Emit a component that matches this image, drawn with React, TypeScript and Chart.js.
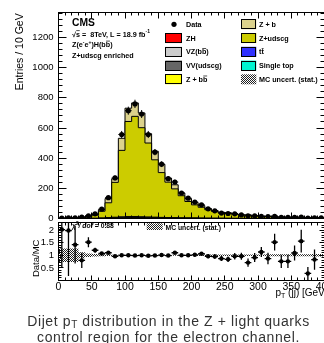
import React, { useEffect, useRef } from 'react';
import { Chart, registerables } from 'chart.js';

Chart.register(...registerables);

const FONT = '"Liberation Sans", Arial, Helvetica, sans-serif';
const BIN_W = 10;

// lower edges of the 10 GeV bins
const binStarts = [0, 10, 20, 30, 40, 50, 60, 70, 80, 90, 100, 110, 120, 130, 140, 150, 160, 170, 180, 190,
  200, 210, 220, 230, 240, 250, 260, 270, 280, 290, 300, 310, 320, 330, 340, 350, 360, 370, 380, 390];

// observed events per bin
const dataCounts = [3, 5, 5, 9, 18, 31, 62, 138, 269, 557, 715, 760, 693, 557, 440, 360, 264, 242, 169, 135,
  109, 91, 64, 51, 36, 33, 31, 24, 18, 17, 15, 13, 14, 8, 7, 8, 10, 2, 5, 5];

// simulated backgrounds (stacked, bottom to top)
const zh = [0, 0, 0, 0, 0, 0, 0, 0.1, 0.1, 0.2, 0.3, 0.3, 0.3, 0.3, 0.3, 0.3, 0.3, 0.2, 0.2, 0.2,
  0.2, 0.2, 0.1, 0.1, 0.1, 0.1, 0.1, 0.1, 0.1, 0.1, 0, 0, 0, 0, 0, 0, 0, 0, 0, 0];
const vzbb = [0, 0, 0, 0, 0, 0, 0.1, 0.2, 0.3, 0.5, 0.6, 0.6, 0.6, 0.5, 0.5, 0.4, 0.3, 0.3, 0.2, 0.2,
  0.2, 0.1, 0.1, 0.1, 0.1, 0.1, 0.1, 0, 0, 0, 0, 0, 0, 0, 0, 0, 0, 0, 0, 0];
const vvudscg = [0, 0, 0, 0.2, 0.2, 0.4, 0.7, 1.2, 1.8, 2.2, 2.4, 2.4, 2.2, 2, 1.8, 1.5, 1.3, 1.1, 0.9, 0.7,
  0.6, 0.5, 0.4, 0.3, 0.3, 0.2, 0.2, 0.2, 0.1, 0.1, 0.1, 0.1, 0.1, 0.1, 0.1, 0, 0, 0, 0, 0];
const ttbar = [0, 0, 0, 0, 0, 0.2, 0.4, 0.7, 1.2, 1.6, 1.8, 1.8, 1.7, 1.5, 1.3, 1.1, 0.9, 0.8, 0.6, 0.5,
  0.4, 0.3, 0.3, 0.2, 0.2, 0.1, 0.1, 0.1, 0.1, 0.1, 0, 0, 0, 0, 0, 0, 0, 0, 0, 0];
const singleTop = [0, 0, 0, 0, 0, 0, 0.1, 0.1, 0.2, 0.3, 0.3, 0.3, 0.3, 0.2, 0.2, 0.2, 0.1, 0.1, 0.1, 0.1,
  0.1, 0, 0, 0, 0, 0, 0, 0, 0, 0, 0, 0, 0, 0, 0, 0, 0, 0, 0, 0];
const zbb = [0.1, 0.1, 0.2, 0.5, 0.5, 1, 2, 4, 5, 7, 8, 8, 7, 6, 5, 4, 3, 3, 2, 2,
  2, 1.5, 1, 1, 0.8, 0.7, 0.5, 0.4, 0.3, 0.3, 0.2, 0.2, 0.2, 0.2, 0.1, 0.1, 0.1, 0.1, 0.1, 0.1];
const zudscg = [1.5, 2, 3, 8, 9, 20, 45, 98, 231, 440, 630, 664, 590, 490, 380, 297, 235, 191, 147, 109,
  87, 72, 56, 45, 35, 33, 27, 21, 21, 16, 11, 13, 8, 9, 8, 6, 5.5, 6, 5, 4.3];
const zb = [0.3, 0.3, 0.6, 2, 2, 5, 10, 28, 24, 80, 88, 89, 98, 62, 57, 55, 27, 27, 18, 19,
  15, 11, 8, 6, 4.5, 4.5, 3.5, 3, 2.5, 2, 1.8, 1.6, 1, 1.2, 1, 1, 0.7, 0.8, 0.7, 0.5];

// ratio panel
const ratioVals = [2.02, 1.98, 1.42, 0.8, 1.52, 1.2, 1.07, 1.1, 0.96, 1.0, 1.0, 0.99, 1.0, 0.98, 0.99, 1.01, 0.99, 1.1, 1.0, 1.0,
  1.02, 1.06, 0.96, 0.95, 0.87, 0.84, 0.96, 0.96, 0.71, 0.91, 1.13, 0.87, 1.52, 0.76, 0.76, 1.09, 1.56, 0.28, 0.83, null];
const ratioErr = [1.5, 1.8, 0.75, 0.3, 0.2, 0.1, 0.06, 0.045, 0.035, 0.03, 0.03, 0.03, 0.03, 0.03, 0.035, 0.04, 0.045, 0.05, 0.055, 0.06,
  0.065, 0.07, 0.08, 0.09, 0.1, 0.11, 0.13, 0.14, 0.16, 0.18, 0.2, 0.23, 0.33, 0.26, 0.26, 0.3, 0.45, 0.26, 0.4, 0];
const mcRelErr = [0.27, 0.27, 0.27, 0.12, 0.07, 0.05, 0.04, 0.03, 0.02, 0.02, 0.02, 0.02, 0.02, 0.02, 0.02, 0.02, 0.02, 0.02, 0.02, 0.02,
  0.03, 0.03, 0.03, 0.03, 0.03, 0.03, 0.03, 0.03, 0.03, 0.03, 0.03, 0.04, 0.04, 0.04, 0.04, 0.04, 0.04, 0.04, 0.05, 0.05];

// tick labels
const yMainTicks = [0, 200, 400, 600, 800, 1000, 1200];
const xTicks = [0, 50, 100, 150, 200, 250, 300, 350, 400];
const yRatioTicks = [0.5, 1, 1.5, 2];

type Seg = { t: string; sup?: boolean; sub?: boolean; over?: boolean; it?: boolean };

function rich(ctx: CanvasRenderingContext2D, x: number, y: number, segs: Seg[], size: number, bold: boolean) {
  let cx = x;
  for (const s of segs) {
    const small = s.sup || s.sub;
    const fs = small ? size * 0.7 : size;
    ctx.font = `${s.it ? 'italic ' : ''}${bold ? 'bold ' : ''}${fs}px ${FONT}`;
    const dy = s.sup ? -size * 0.42 : s.sub ? size * 0.22 : 0;
    ctx.fillText(s.t, cx, y + dy);
    const w = ctx.measureText(s.t).width;
    if (s.over) {
      ctx.save();
      ctx.lineWidth = Math.max(0.7, size * 0.09);
      ctx.strokeStyle = '#000';
      ctx.beginPath();
      const oy = y - size * 0.82;
      ctx.moveTo(cx + 0.3, oy);
      ctx.lineTo(cx + w - 0.2, oy);
      ctx.stroke();
      ctx.restore();
    }
    cx += w;
  }
  return cx;
}

function makeChecker(): CanvasPattern | string {
  const c = document.createElement('canvas');
  c.width = 2; c.height = 2;
  const g = c.getContext('2d');
  if (!g) return '#888';
  g.fillStyle = '#fff'; g.fillRect(0, 0, 2, 2);
  g.fillStyle = '#222'; g.fillRect(0, 0, 1, 1); g.fillRect(1, 1, 1, 1);
  return g.createPattern(c, 'repeat') || '#888';
}

function drawFrame(chart: any, cfg: { xMinor: number; xMajor: number; xMaj: number; xMin: number; yMinor: number; yMajor: number; yMaj: number; yMin: number }) {
  const { ctx, chartArea: a, scales } = chart;
  const xs = scales.x, ys = scales.y;
  ctx.save();
  ctx.strokeStyle = '#000';
  ctx.lineWidth = 1;
  ctx.beginPath();
  const nx = Math.round((xs.max - xs.min) / cfg.xMinor);
  for (let k = 0; k <= nx; k++) {
    const v = xs.min + k * cfg.xMinor;
    const px = Math.round(xs.getPixelForValue(v) - 0.5) + 0.5;
    const r = v / cfg.xMajor;
    const major = Math.abs(r - Math.round(r)) < 1e-6;
    const len = major ? cfg.xMaj : cfg.xMin;
    ctx.moveTo(px, a.bottom); ctx.lineTo(px, a.bottom - len);
    ctx.moveTo(px, a.top); ctx.lineTo(px, a.top + len);
  }
  const ny = Math.floor((ys.max - ys.min) / cfg.yMinor + 1e-6);
  for (let k = 0; k <= ny; k++) {
    const v = ys.min + k * cfg.yMinor;
    const py = Math.round(ys.getPixelForValue(v) - 0.5) + 0.5;
    const r = v / cfg.yMajor;
    const major = Math.abs(r - Math.round(r)) < 1e-6;
    const len = major ? cfg.yMaj : cfg.yMin;
    ctx.moveTo(a.left, py); ctx.lineTo(a.left + len, py);
    ctx.moveTo(a.right, py); ctx.lineTo(a.right - len, py);
  }
  ctx.stroke();
  ctx.strokeRect(a.left, a.top, a.right - a.left, a.bottom - a.top);
  ctx.restore();
}

function stepPoints(vals: number[]) {
  const pts = binStarts.map((x, i) => ({ x, y: vals[i] }));
  pts.push({ x: binStarts[binStarts.length - 1] + BIN_W, y: vals[vals.length - 1] });
  return pts;
}

export default function App() {
  const mainRef = useRef<HTMLCanvasElement>(null);
  const ratioRef = useRef<HTMLCanvasElement>(null);

  useEffect(() => {
    const checker = makeChecker();

    const components = [
      { label: 'ZH', vals: zh, color: '#ff0000' },
      { label: 'VZ(bb)', vals: vzbb, color: '#cccccc' },
      { label: 'VV(udscg)', vals: vvudscg, color: '#666666' },
      { label: 'tt', vals: ttbar, color: '#3030ff' },
      { label: 'Single top', vals: singleTop, color: '#00f5d0' },
      { label: 'Z + bb', vals: zbb, color: '#ffff00' },
      { label: 'Z+udscg', vals: zudscg, color: '#cccc00' },
      { label: 'Z + b', vals: zb, color: '#dcd28c' },
    ];

    const mcSets: any[] = components.map((c, i) => ({
      type: 'line',
      label: c.label,
      data: stepPoints(c.vals),
      stepped: 'before',
      borderColor: '#000',
      borderWidth: 1,
      backgroundColor: c.color,
      fill: i === 0 ? 'origin' : '-1',
      pointRadius: 0,
      stack: 'mc',
      order: 1,
    }));

    const dataSet: any = {
      type: 'scatter',
      label: 'Data',
      data: dataCounts.map((n, i) => ({ x: binStarts[i] + BIN_W / 2, y: n })),
      backgroundColor: '#000',
      borderColor: '#000',
      pointRadius: 2.6,
      pointBorderWidth: 0,
      stack: 'data',
      order: -1,
    };

    const mainDeco = {
      id: 'mainDeco',
      afterDatasetsDraw(chart: any) {
        const { ctx, chartArea: a, scales } = chart;
        const xs = scales.x, ys = scales.y;
        ctx.save();
        ctx.beginPath(); ctx.rect(a.left, a.top, a.right - a.left, a.bottom - a.top); ctx.clip();
        ctx.strokeStyle = '#000'; ctx.lineWidth = 1;
        ctx.beginPath();
        dataCounts.forEach((n, i) => {
          if (n <= 0) return;
          const e = Math.sqrt(n);
          const cx = xs.getPixelForValue(binStarts[i] + BIN_W / 2);
          const cy = ys.getPixelForValue(n);
          ctx.moveTo(cx, ys.getPixelForValue(n - e)); ctx.lineTo(cx, ys.getPixelForValue(n + e));
          ctx.moveTo(xs.getPixelForValue(binStarts[i]), cy); ctx.lineTo(xs.getPixelForValue(binStarts[i] + BIN_W), cy);
        });
        ctx.stroke();
        ctx.restore();

        drawFrame(chart, { xMinor: 10, xMajor: 50, xMaj: 6, xMin: 3, yMinor: 40, yMajor: 200, yMaj: 8, yMin: 4 });

        ctx.save();
        ctx.fillStyle = '#000';
        ctx.textAlign = 'left';
        ctx.textBaseline = 'alphabetic';
        const s = 7.2;
        rich(ctx, 72, 26, [{ t: 'CMS' }], 10.3, true);
        rich(ctx, 72, 36.5, [{ t: '\u221A' }, { t: 's', over: true }, { t: ' =  8TeV, L = 18.9 fb' }, { t: '-1', sup: true }], s, true);
        rich(ctx, 72, 47, [{ t: 'Z(e' }, { t: '-', sup: true }, { t: 'e' }, { t: '+', sup: true }, { t: ')H(b' }, { t: 'b', over: true }, { t: ')' }], s, true);
        rich(ctx, 72, 58, [{ t: 'Z+udscg enriched' }], s, true);

        // legend
        const rows = [24.3, 38.05, 51.8, 65.55, 79.3];
        const c1b = 165.3, c1t = 186, c2b = 241, c2t = 259;
        const box = (x: number, cy: number, w: number, fill: any, border: boolean) => {
          ctx.fillStyle = fill;
          ctx.fillRect(x, cy - 5, w, 10);
          if (border) {
            ctx.strokeStyle = '#000'; ctx.lineWidth = 1;
            ctx.strokeRect(Math.round(x) + 0.5, Math.round(cy - 5) + 0.5, Math.round(w) - 1, 9);
          }
          ctx.fillStyle = '#000';
        };
        ctx.beginPath(); ctx.arc(174, rows[0], 2.6, 0, Math.PI * 2); ctx.fill();
        rich(ctx, c1t, rows[0] + 2.6, [{ t: 'Data' }], s, true);
        box(c1b, rows[1], 16.7, '#ff0000', true);
        rich(ctx, c1t, rows[1] + 2.6, [{ t: 'ZH' }], s, true);
        box(c1b, rows[2], 16.7, '#cccccc', true);
        rich(ctx, c1t, rows[2] + 2.6, [{ t: 'VZ(b' }, { t: 'b', over: true }, { t: ')' }], s, true);
        box(c1b, rows[3], 16.7, '#666666', true);
        rich(ctx, c1t, rows[3] + 2.6, [{ t: 'VV(udscg)' }], s, true);
        box(c1b, rows[4], 16.7, '#ffff00', true);
        rich(ctx, c1t, rows[4] + 2.6, [{ t: 'Z + b' }, { t: 'b', over: true }], s, true);

        box(c2b, rows[0], 15.3, '#dcd28c', true);
        rich(ctx, c2t, rows[0] + 2.6, [{ t: 'Z + b' }], s, true);
        box(c2b, rows[1], 15.3, '#cccc00', true);
        rich(ctx, c2t, rows[1] + 2.6, [{ t: 'Z+udscg' }], s, true);
        box(c2b, rows[2], 15.3, '#3030ff', true);
        rich(ctx, c2t, rows[2] + 2.6, [{ t: 't' }, { t: 't', over: true }], s, true);
        box(c2b, rows[3], 15.3, '#00f5d0', true);
        rich(ctx, c2t, rows[3] + 2.6, [{ t: 'Single top' }], s, true);
        box(c2b, rows[4], 15.3, checker, false);
        rich(ctx, c2t, rows[4] + 2.6, [{ t: 'MC uncert. (stat.)' }], s, true);

        ctx.save();
        ctx.translate(23, 13.3);
        ctx.rotate(-Math.PI / 2);
        ctx.textAlign = 'right';
        ctx.font = `10.5px ${FONT}`;
        ctx.fillText('Entries / 10 GeV', 0, 0);
        ctx.restore();
        ctx.restore();
      },
    };

    const main = new Chart(mainRef.current as HTMLCanvasElement, {
      type: 'line',
      data: { datasets: [...mcSets, dataSet] },
      options: {
        responsive: false,
        animation: false,
        layout: { padding: { left: 0, top: 12.5, right: 15.5, bottom: 11.5 } },
        plugins: { legend: { display: false }, tooltip: { enabled: false }, title: { display: false } },
        scales: {
          x: { type: 'linear', min: 0, max: 400, display: false },
          y: {
            type: 'linear', min: 0, max: 1366, stacked: true,
            grid: { display: false, drawTicks: false },
            border: { display: false },
            ticks: { color: '#000', padding: 5, font: { family: FONT, size: 9.5 }, callback: (v: any) => String(v) },
            afterBuildTicks: (sc: any) => { sc.ticks = yMainTicks.map((v) => ({ value: v })); },
            afterFit: (sc: any) => { sc.width = 58.5; sc.paddingTop = 0; sc.paddingBottom = 0; },
          },
        },
      } as any,
      plugins: [mainDeco],
    } as any);

    const bandLow: any = {
      type: 'line',
      data: stepPoints(mcRelErr.map((e) => 1 - e)),
      stepped: 'before', borderWidth: 0, pointRadius: 0, fill: false, order: 2,
    };
    const bandHigh: any = {
      type: 'line',
      data: stepPoints(mcRelErr.map((e) => 1 + e)),
      stepped: 'before', borderWidth: 0, pointRadius: 0, fill: '-1', backgroundColor: checker, order: 2,
    };
    const ratioPts: any = {
      type: 'scatter',
      data: ratioVals.map((r, i) => (r == null ? null : { x: binStarts[i] + BIN_W / 2, y: r })).filter((p) => p !== null),
      backgroundColor: '#000', borderColor: '#000', pointRadius: 2.2, pointBorderWidth: 0, order: -1,
    };

    const ratioDeco = {
      id: 'ratioDeco',
      afterDatasetsDraw(chart: any) {
        const { ctx, chartArea: a, scales } = chart;
        const xs = scales.x, ys = scales.y;
        ctx.save();
        ctx.beginPath(); ctx.rect(a.left, a.top, a.right - a.left, a.bottom - a.top); ctx.clip();
        ctx.strokeStyle = '#000'; ctx.lineWidth = 1.3;
        ctx.beginPath();
        ratioVals.forEach((r, i) => {
          if (r == null) return;
          const e = ratioErr[i];
          const cx = xs.getPixelForValue(binStarts[i] + BIN_W / 2);
          const cy = ys.getPixelForValue(r);
          ctx.moveTo(cx, ys.getPixelForValue(r - e)); ctx.lineTo(cx, ys.getPixelForValue(r + e));
          ctx.moveTo(xs.getPixelForValue(binStarts[i]), cy); ctx.lineTo(xs.getPixelForValue(binStarts[i] + BIN_W), cy);
        });
        ctx.stroke();
        ctx.restore();

        drawFrame(chart, { xMinor: 10, xMajor: 50, xMaj: 5, xMin: 3, yMinor: 0.1, yMajor: 0.5, yMaj: 5, yMin: 3 });

        const off = 210;
        ctx.save();
        ctx.fillStyle = '#000';
        ctx.textAlign = 'left';
        rich(ctx, 72, 227.5 - off, [{ t: '\u03C7', it: true }, { t: '2', sup: true }, { t: '/ dof', it: true }, { t: ' = 0.88' }], 6.8, true);
        ctx.fillStyle = checker as any;
        ctx.fillRect(146.7, 223.3 - off, 16, 6.7);
        ctx.fillStyle = '#000';
        rich(ctx, 165.5, 229.5 - off, [{ t: 'MC uncert. (stat.)' }], 6.8, true);

        ctx.save();
        ctx.translate(38.5, 258.3 - off);
        ctx.rotate(-Math.PI / 2);
        ctx.textAlign = 'center';
        ctx.font = `9.5px ${FONT}`;
        ctx.fillText('Data/MC', 0, 0);
        ctx.restore();

        ctx.textAlign = 'left';
        rich(ctx, 275.5, 296 - off, [{ t: 'p' }, { t: 'T', sub: true }, { t: ' (jj) [GeV]' }], 10, false);
        ctx.restore();
      },
    };

    const ratio = new Chart(ratioRef.current as HTMLCanvasElement, {
      type: 'line',
      data: { datasets: [bandLow, bandHigh, ratioPts] },
      options: {
        responsive: false,
        animation: false,
        layout: { padding: { left: 0, top: 12.5, right: 15.5, bottom: 0 } },
        plugins: { legend: { display: false }, tooltip: { enabled: false }, title: { display: false } },
        scales: {
          x: {
            type: 'linear', min: 0, max: 400,
            grid: { display: false, drawTicks: false },
            border: { display: false },
            ticks: { autoSkip: false, maxRotation: 0, color: '#000', padding: 0, font: { family: FONT, size: 10.5 }, callback: (v: any) => String(v) },
            afterBuildTicks: (sc: any) => { sc.ticks = xTicks.map((v) => ({ value: v })); },
            afterFit: (sc: any) => { sc.height = 19.5; sc.paddingLeft = 0; sc.paddingRight = 0; },
          },
          y: {
            type: 'linear', min: 0, max: 2.3,
            grid: { display: false, drawTicks: false },
            border: { display: false },
            ticks: { color: '#000', padding: 4.5, font: { family: FONT, size: 9.5 }, callback: (v: any) => String(v) },
            afterBuildTicks: (sc: any) => { sc.ticks = yRatioTicks.map((v) => ({ value: v })); },
            afterFit: (sc: any) => { sc.width = 58.5; sc.paddingTop = 0; sc.paddingBottom = 0; },
          },
        },
      } as any,
      plugins: [ratioDeco],
    } as any);

    return () => { main.destroy(); ratio.destroy(); };
  }, []);

  return (
    <div style={{ position: 'absolute', left: 0, top: 0, width: 324, height: 343, overflow: 'hidden', background: '#fff' }}>
      <canvas ref={mainRef} width={340} height={230} style={{ position: 'absolute', left: 0, top: 0, width: 340, height: 230 }} />
      <canvas ref={ratioRef} width={340} height={90} style={{ position: 'absolute', left: 0, top: 210, width: 340, height: 90 }} />
      <div style={{ position: 'absolute', left: 6.5, top: 314, width: 324, textAlign: 'center', fontFamily: FONT, fontSize: 14, letterSpacing: '0.6px', lineHeight: '15px', color: '#333', whiteSpace: 'nowrap' }}>
        Dijet p<span style={{ fontSize: 10, position: 'relative', top: 2 }}>T</span> distribution in the Z + light quarks<br />
        control region for the electron channel.
      </div>
    </div>
  );
}
